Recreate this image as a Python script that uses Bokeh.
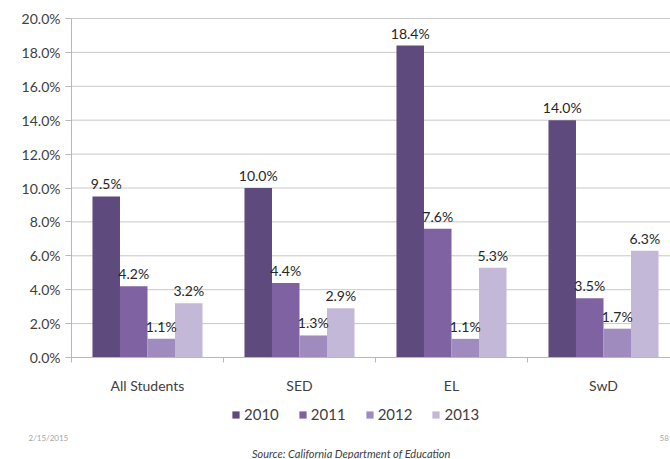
from bokeh.plotting import figure
from bokeh.models import ColumnDataSource, FixedTicker, Legend, LegendItem, Label, Range1d
from bokeh.core.properties import value
from bokeh.embed import file_html
from bokeh.resources import INLINE
import numpy as np

categories = ["All Students", "SED", "EL", "SwD"]
years = ["2010", "2011", "2012", "2013"]
rate_2010 = [9.5, 10.0, 18.4, 14.0]
rate_2011 = [4.2, 4.4, 7.6, 3.5]
rate_2012 = [1.1, 1.3, 1.1, 1.7]
rate_2013 = [3.2, 2.9, 5.3, 6.3]
y_ticks = [0, 2, 4, 6, 8, 10, 12, 14, 16, 18, 20]

colors = ["#5f4a7e", "#7e62a1", "#9f8bbe", "#c3b8d7"]
FONT = "Lato"

W, H = 670, 459
X0, CAT_PX = 71, 152          # axis position and category width (px)
Y0, UNIT_PX = 357, 16.95      # zero line position and px per 1%
x_end = (W - X0) / CAT_PX
p = figure(width=W, height=H, output_backend="svg", toolbar_location=None,
           x_range=Range1d(-X0 / CAT_PX, x_end),
           y_range=Range1d(-(H - Y0) / UNIT_PX, Y0 / UNIT_PX),
           min_border=0)
p.outline_line_color = None
p.background_fill_color = "white"
p.border_fill_color = "white"
p.xgrid.grid_line_color = None
p.ygrid.grid_line_color = None

# horizontal gridlines starting at the y axis
p.segment(x0=[0] * len(y_ticks), x1=[x_end] * len(y_ticks), y0=y_ticks, y1=y_ticks,
          line_color="#c8c8c8", line_width=1)

# y axis
p.yaxis.fixed_location = 0
p.yaxis.bounds = (0, 20)
p.yaxis.ticker = FixedTicker(ticks=y_ticks)
p.yaxis.major_label_overrides = {t: f"{t:.1f}%" for t in y_ticks}
p.yaxis.axis_line_color = "#b8b8b8"
p.yaxis.major_tick_line_color = "#b8b8b8"
p.yaxis.major_tick_out = 6
p.yaxis.major_tick_in = 0
p.yaxis.minor_tick_line_color = None
p.yaxis.major_label_standoff = 5
p.yaxis.major_label_text_font = FONT
p.yaxis.major_label_text_font_size = "14px"
p.yaxis.major_label_text_color = "#404040"

# x axis
centers = np.arange(len(categories)) + 0.5
p.xaxis.fixed_location = 0
p.xaxis.bounds = (0, x_end)
p.xaxis.ticker = FixedTicker(ticks=list(centers), minor_ticks=list(range(len(categories) + 1)))
p.xaxis.major_label_overrides = {float(c): cat for c, cat in zip(centers, categories)}
p.xaxis.axis_line_color = "#b8b8b8"
p.xaxis.major_tick_line_color = None
p.xaxis.major_tick_out = 0
p.xaxis.major_tick_in = 0
p.xaxis.minor_tick_line_color = "#b8b8b8"
p.xaxis.minor_tick_out = 5
p.xaxis.minor_tick_in = 0
p.xaxis.major_label_standoff = 14
p.xaxis.major_label_text_font = FONT
p.xaxis.major_label_text_font_size = "14px"
p.xaxis.major_label_text_color = "#404040"

bw = 0.181
series = [rate_2010, rate_2011, rate_2012, rate_2013]
items = []
for i, (yr, vals, col) in enumerate(zip(years, series, colors)):
    xs = centers + (i - 1.5) * bw
    src = ColumnDataSource(dict(x=xs, top=vals))
    r = p.vbar(x="x", top="top", width=bw, source=src, fill_color=col, line_color=None)
    items.append(LegendItem(label=yr, renderers=[r]))

for i, vals in enumerate(series):
    xs = centers + (i - 1.5) * bw
    src = ColumnDataSource(dict(x=xs, y=vals, label=[f"{v:.1f}%" for v in vals]))
    p.text(x="x", y="y", text="label", source=src, text_align="center", text_baseline="bottom",
           y_offset=-4, text_font=value(FONT), text_font_size="14px", text_color="#262626")

legend = Legend(items=items, orientation="horizontal", location=(231, 36),
                border_line_color=None, background_fill_alpha=0,
                glyph_width=9, glyph_height=9, label_standoff=4, spacing=19,
                padding=0, margin=0, label_text_font=FONT, label_text_font_size="15px",
                label_text_color="#404040", label_height=9)
p.add_layout(legend, "center")

p.add_layout(Label(x=28, y=22, x_units="screen", y_units="screen", text="2/15/2015",
                   text_font=FONT, text_font_size="8px", text_color="#a6a6a6",
                   text_baseline="middle"))
p.add_layout(Label(x=659, y=22, x_units="screen", y_units="screen", text="58",
                   text_font=FONT, text_font_size="8px", text_color="#a6a6a6",
                   text_baseline="middle"))
p.add_layout(Label(x=352, y=6, x_units="screen", y_units="screen",
                   text="Source:  California Department of Education",
                   text_font=FONT, text_font_size="11px", text_font_style="italic",
                   text_color="#404040", text_align="center", text_baseline="middle"))

open("out.html", "w").write(file_html(p, INLINE))
